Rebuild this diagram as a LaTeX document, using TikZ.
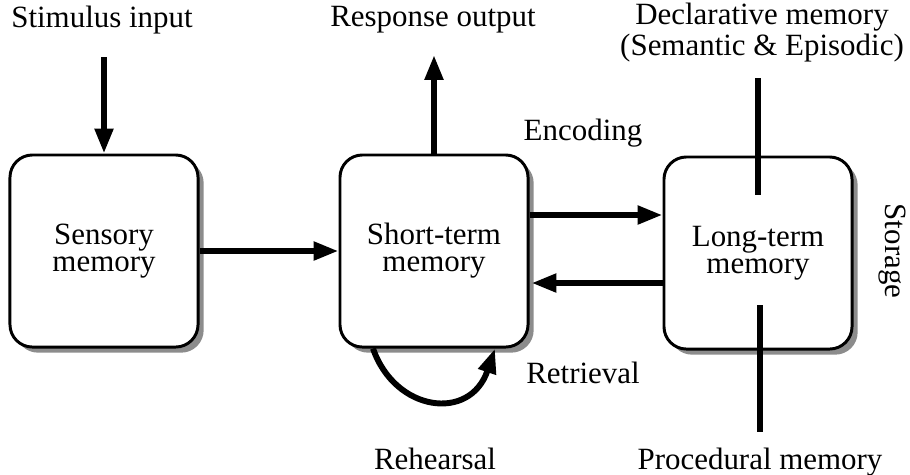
\documentclass[tikz,border=0pt]{standalone}
\usepackage{fontspec}
\setmainfont{Liberation Serif}
\usetikzlibrary{arrows.meta,calc,shadows}
\tikzset{
	memory/.style={draw, line width=1.05pt, rounded corners=0.28cm, fill=white, minimum width=2.35cm, minimum height=2.4cm, align=center, inner sep=2pt,
		drop shadow={shadow xshift=2pt, shadow yshift=-2pt, fill=black!45, opacity=1}},
	lbl/.style={align=center, inner sep=1pt},
	flow/.style={-{Triangle[length=3.1mm, width=2.2mm]}, line width=2.1pt},
	link/.style={line width=2.1pt}
}

\begin{document}
\begin{tikzpicture}[x=0.0125cm, y=-0.0125cm, font=\fontsize{11}{9.6}\selectfont]
	\useasboundingbox (0,0) rectangle (910,474);
	% the three stores
	\node[memory] (sens) at (104,251) {Sensory\\memory};
	\node[memory] (stm) at (434,251) {Short-term\\memory};
	\node[memory] (ltm) at (758,253) {Long-term\\memory};
	% texts
	\node[lbl] (stim) at (102,20) {Stimulus input};
	\node[lbl] (resp) at (433,20) {Response output};
	\node[lbl] (decl) at (762,33) {Declarative memory\\(Semantic \& Episodic)};
	\node[lbl] (proc) at (760,462) {Procedural memory};
	\node[lbl] (enc) at (583,133) {Encoding};
	\node[lbl] (retr) at (583,373) {Retrieval};
	\node[lbl] (reh) at (435,459) {Rehearsal};
	\node[lbl, rotate=-90] (stor) at (892,251) {Storage};
	% free ends
	\coordinate (stimend) at (104,57);
	\coordinate (respend) at (434,55);
	\coordinate (decltop) at (758,78);
	\coordinate (procbot) at (760,432);
	% connectors
	\draw[flow] (stimend) -- (sens.north);
	\draw[flow] (stm.north) -- (respend);
	\draw[flow] (sens.east) -- (stm.west);
	\draw[flow] ($(stm.east)+(0,-36)$) -- ($(ltm.west)+(0,-38)$);
	\draw[flow] ($(ltm.west)+(0,30)$) -- ($(stm.east)+(2,32)$);
	\draw[link] (decltop) -- ($(ltm.center)+(0,-58)$);
	\draw[link] ($(ltm.center)+(2,52)$) -- (procbot);
	\draw[flow] ($(stm.south)+(-61,0)$) .. controls (395,412) and (470,422) .. ($(stm.south)+(61,0)$);
\end{tikzpicture}
\end{document}
